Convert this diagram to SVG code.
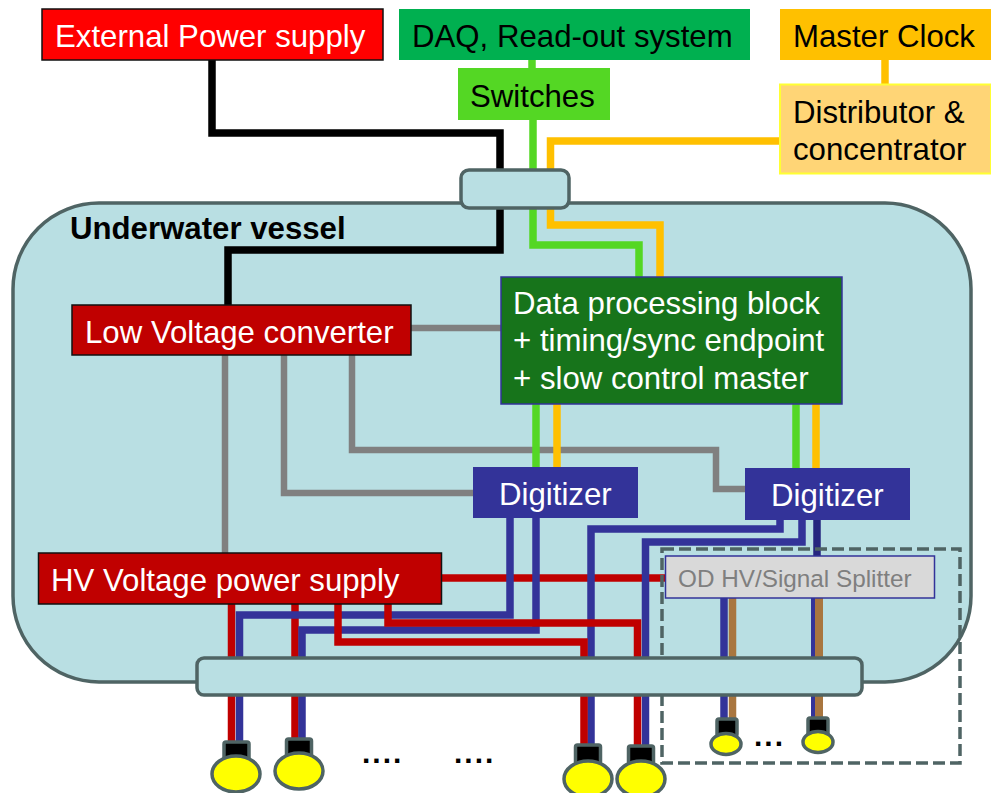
<svg xmlns="http://www.w3.org/2000/svg" width="991" height="793" viewBox="0 0 991 793">
<style>
text{font-family:"Liberation Sans",Arial,sans-serif;font-size:31.2px}
.w{fill:#fff}.k{fill:#000}
.hull{fill:#b9dfe3;stroke:#4f6464;stroke-width:3.5}
.l{fill:none;stroke-width:7.500;stroke-linejoin:miter}
.blk{stroke:#000}.grn{stroke:#54d724}.org{stroke:#ffc000}.gry{stroke:#808080;stroke-width:6.500}.red{stroke:#c00000}.blu{stroke:#333399}.brn{stroke:#a9763f}
.lamp{fill:#ffff00;stroke:#4f6464;stroke-width:3.5}
.cap{fill:#000;stroke:#4f6464;stroke-width:3.5}
.rd{fill:#c00000;stroke:#111;stroke-width:1.5}
.dots{font-weight:bold;font-size:30px;letter-spacing:2px}
</style>
<rect width="991" height="793" fill="#fff"/>
<g id="vessel"><rect class="hull" x="13" y="203" width="958" height="479" rx="86" ry="86"/>
<text x="70" y="239" class="k" style="font-weight:bold">Underwater vessel</text></g>
<g id="connectors">
<path class="l grn" d="M532 60V68"/>
<path class="l org" d="M885 60V84"/>
<path class="l blk" d="M212 60V133H500V250H228V305"/>
<path class="l grn" d="M533 120V245H639V277"/>
<path class="l org" d="M779 141H550.500V225H660V277"/>
<path class="l gry" d="M411 328H501"/>
<path class="l gry" d="M225 355V553"/>
<path class="l gry" d="M284 355V493H473"/>
<path class="l gry" d="M352 355V450H716V489H745"/>
<path class="l grn" d="M536 404V467"/>
<path class="l org" d="M557 404V467"/>
<path class="l grn" d="M796 404V468"/>
<path class="l org" d="M816 404V468"/>
<path class="l red" d="M441 578H666"/>
<path class="l red" d="M231.500 604V741"/>
<path class="l red" d="M295 604V738"/>
<path class="l blu" d="M510 518V615H239.500V741"/>
<path class="l blu" d="M536 518V630H302V738"/>
<path class="l blu" d="M780 520V529H591V744"/>
<path class="l blu" d="M802 520V542H645.500V745"/>
<path class="l" stroke="#26267f" d="M817 520V556"/>
<path class="l red" d="M338 604V642H584V744"/>
<path class="l red" d="M388 604V623H637.500V745"/>
<path class="l blu" d="M724 598V718"/>
<path class="l brn" d="M732.500 598V718"/>
<path class="l blu" style="stroke-width:4" d="M813 598V717"/>
<path class="l brn" style="stroke-width:8" d="M819 598V717"/>
</g>
<g id="od-box"><rect x="662" y="549" width="298" height="214" fill="none" stroke="#4f6464" stroke-width="3.500" stroke-dasharray="12 5"/></g>
<g id="top-port"><rect class="hull" x="461" y="170" width="108" height="38" rx="8"/></g>
<g id="bottom-port"><rect class="hull" x="197" y="658" width="665" height="37" rx="7"/></g>
<g id="ext-power"><rect class="rd" x="42" y="9" width="341" height="51" style="fill:#ff0000"/><text x="55" y="47" class="w">External Power supply</text></g>
<g id="daq"><rect x="399" y="9" width="351" height="51" fill="#00b050"/><text x="412" y="47" class="k">DAQ, Read-out system</text></g>
<g id="clock"><rect x="780" y="9" width="211" height="51" fill="#ffc000"/><text x="793" y="47" class="k">Master Clock</text></g>
<g id="switches"><rect x="458" y="68" width="152" height="52" fill="#54d724"/><text x="470" y="107" class="k">Switches</text></g>
<g id="distributor"><rect x="780" y="84.500" width="211" height="89" fill="#ffd576" stroke="#ffff33" stroke-width="2"/><text x="793" y="123" class="k">Distributor &amp;</text><text x="793" y="160" class="k">concentrator</text></g>
<g id="data-block"><rect x="501" y="277" width="341" height="127" fill="#17741b" stroke="#333399" stroke-width="1.500"/><text x="513" y="314" class="w">Data processing block</text><text x="513" y="351" class="w">+ timing/sync endpoint</text><text x="513" y="389" class="w">+ slow control master</text></g>
<g id="lv"><rect class="rd" x="72" y="305" width="339" height="50"/><text x="85" y="343" class="w">Low Voltage converter</text></g>
<g id="digitizer-1"><rect x="473" y="467" width="165" height="51" fill="#333399"/><text x="499" y="505" class="w">Digitizer</text></g>
<g id="digitizer-2"><rect x="745" y="468" width="165" height="52" fill="#333399"/><text x="771" y="506" class="w">Digitizer</text></g>
<g id="hv"><rect class="rd" x="38.500" y="553" width="403" height="51"/><text x="51" y="591" class="w">HV Voltage power supply</text></g>
<g id="splitter"><rect x="665.500" y="556" width="269" height="42" fill="#d9d9d9" stroke="#333399" stroke-width="1.500"/><text x="678" y="587" style="font-size:24.3px;fill:#7f7f7f">OD HV/Signal Splitter</text></g>
<g id="pmt-1"><rect class="cap" x="224" y="742" width="25" height="20" rx="2"/><ellipse class="lamp" cx="236" cy="774" rx="24" ry="18"/></g>
<g id="pmt-2"><rect class="cap" x="286.500" y="739" width="25" height="20" rx="2"/><ellipse class="lamp" cx="299" cy="771" rx="24" ry="18"/></g>
<g id="pmt-3"><rect class="cap" x="575.500" y="745" width="25" height="20" rx="2"/><ellipse class="lamp" cx="588" cy="779" rx="24" ry="18"/></g>
<g id="pmt-4"><rect class="cap" x="628.500" y="746" width="25" height="20" rx="2"/><ellipse class="lamp" cx="641" cy="779" rx="24" ry="18"/></g>
<g id="pmt-5"><rect class="cap" x="717" y="719" width="20" height="17" rx="2"/><ellipse class="lamp" cx="726" cy="744" rx="15" ry="10.500"/></g>
<g id="pmt-6"><rect class="cap" x="808" y="718" width="20" height="17" rx="2"/><ellipse class="lamp" cx="818" cy="742" rx="15" ry="10.500"/></g>
<text x="362" y="763" class="k dots">....</text>
<text x="454" y="763" class="k dots">....</text>
<text x="754" y="746" class="k dots">...</text>
</svg>
